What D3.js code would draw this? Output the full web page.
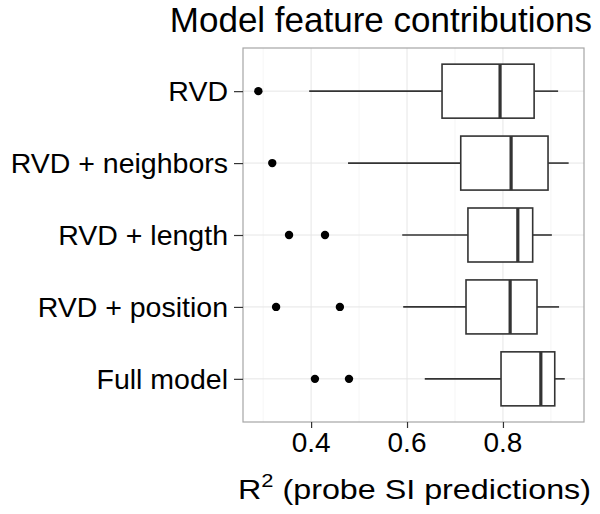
<!DOCTYPE html>
<html>
<head>
<meta charset="utf-8">
<script src="https://cdn.jsdelivr.net/npm/d3@7"></script>
<style>
  body { margin: 0; background: #fff; }
  svg { display: block; }
  text { font-family: "Liberation Sans", Arial, sans-serif; }
</style>
</head>
<body>
<svg id="chart"></svg>
<script>
// model variants, top to bottom
const models = ["RVD", "RVD + neighbors", "RVD + length", "RVD + position", "Full model"];
// boxplot stats: [whisker low, q1, median, q3, whisker high]
const boxStats = [
  [0.396, 0.673, 0.794, 0.865, 0.915],
  [0.477, 0.712, 0.817, 0.894, 0.937],
  [0.590, 0.727, 0.831, 0.862, 0.902],
  [0.592, 0.723, 0.815, 0.871, 0.917],
  [0.637, 0.796, 0.879, 0.908, 0.929]
];
const outliers = [
  [0.290],
  [0.319],
  [0.354, 0.429],
  [0.327, 0.460],
  [0.408, 0.479]
];
const xTicks = [0.4, 0.6, 0.8];
const xMinor = [0.3, 0.5, 0.7, 0.9];

const width = 600;
const height = 514;
const margin = { top: 48, right: 16, bottom: 92, left: 243 };
const innerWidth = width - margin.left - margin.right;
const innerHeight = height - margin.top - margin.bottom;

const svg = d3.select("#chart").attr("width", width).attr("height", height);

const xScale = d3.scaleLinear().domain([0.258, 0.969]).range([0, innerWidth]);
const yScale = d3.scalePoint().domain(models).range([0, innerHeight]).padding(0.6);
const boxH = 54;

const g = svg.append("g").attr("transform", `translate(${margin.left},${margin.top})`);

// grid
g.selectAll(".minor")
  .data(xMinor)
  .enter()
  .append("line")
  .attr("x1", (d) => xScale(d))
  .attr("x2", (d) => xScale(d))
  .attr("y1", 0)
  .attr("y2", innerHeight)
  .attr("stroke", "#f2f2f2")
  .attr("stroke-width", 0.8);

g.selectAll(".major")
  .data(xTicks)
  .enter()
  .append("line")
  .attr("x1", (d) => xScale(d))
  .attr("x2", (d) => xScale(d))
  .attr("y1", 0)
  .attr("y2", innerHeight)
  .attr("stroke", "#e6e6e6")
  .attr("stroke-width", 1);

g.selectAll(".hgrid")
  .data(models)
  .enter()
  .append("line")
  .attr("x1", 0)
  .attr("x2", innerWidth)
  .attr("y1", (d) => yScale(d))
  .attr("y2", (d) => yScale(d))
  .attr("stroke", "#e6e6e6")
  .attr("stroke-width", 1);

// boxes
const rows = g.selectAll(".row")
  .data(models.map((m, i) => ({ m, s: boxStats[i], o: outliers[i] })))
  .enter()
  .append("g")
  .attr("transform", (d) => `translate(0,${yScale(d.m)})`);

rows.append("line")
  .attr("x1", (d) => xScale(d.s[0]))
  .attr("x2", (d) => xScale(d.s[1]))
  .attr("stroke", "#333")
  .attr("stroke-width", 1.6);

rows.append("line")
  .attr("x1", (d) => xScale(d.s[3]))
  .attr("x2", (d) => xScale(d.s[4]))
  .attr("stroke", "#333")
  .attr("stroke-width", 1.6);

rows.append("rect")
  .attr("x", (d) => xScale(d.s[1]))
  .attr("width", (d) => xScale(d.s[3]) - xScale(d.s[1]))
  .attr("y", -boxH / 2)
  .attr("height", boxH)
  .attr("fill", "#fff")
  .attr("stroke", "#333")
  .attr("stroke-width", 1.6);

rows.append("line")
  .attr("x1", (d) => xScale(d.s[2]))
  .attr("x2", (d) => xScale(d.s[2]))
  .attr("y1", -boxH / 2)
  .attr("y2", boxH / 2)
  .attr("stroke", "#333")
  .attr("stroke-width", 3.2);

rows.selectAll("circle")
  .data((d) => d.o)
  .enter()
  .append("circle")
  .attr("cx", (d) => xScale(d))
  .attr("r", 4.2)
  .attr("fill", "#000");

// panel border
g.append("rect")
  .attr("width", innerWidth)
  .attr("height", innerHeight)
  .attr("fill", "none")
  .attr("stroke", "#a6a6a6")
  .attr("stroke-width", 1.2);

// axes: tick marks from d3 axes, labels placed with the same scales
const xAxisG = g.append("g")
  .attr("transform", `translate(0,${innerHeight})`)
  .call(d3.axisBottom(xScale).tickValues(xTicks).tickFormat("").tickSize(6));
xAxisG.select(".domain").remove();
xAxisG.selectAll(".tick line").attr("stroke", "#333").attr("stroke-width", 1.2);

g.selectAll(".xlab")
  .data(xTicks)
  .enter()
  .append("text")
  .attr("x", (d) => xScale(d))
  .attr("y", innerHeight + 30)
  .attr("text-anchor", "middle")
  .attr("font-size", 28)
  .attr("fill", "#000")
  .text(d3.format(".1f"));

const yAxisG = g.append("g")
  .call(d3.axisLeft(yScale).tickFormat("").tickSize(9));
yAxisG.select(".domain").remove();
yAxisG.selectAll(".tick line").attr("stroke", "#333").attr("stroke-width", 1.2);

g.selectAll(".ylab")
  .data(models)
  .enter()
  .append("text")
  .attr("x", -15)
  .attr("y", (d) => yScale(d) + 9.7)
  .attr("text-anchor", "end")
  .attr("font-size", 28.5)
  .attr("fill", "#000")
  .text((d) => d);

// title
svg.append("text")
  .attr("x", 592)
  .attr("y", 32)
  .attr("text-anchor", "end")
  .attr("font-size", 35)
  .attr("fill", "#000")
  .text("Model feature contributions");

// x axis label
const xl = svg.append("text")
  .attr("x", 238)
  .attr("y", 499)
  .attr("font-size", 28)
  .attr("textLength", 353)
  .attr("lengthAdjust", "spacingAndGlyphs")
  .attr("fill", "#000");
xl.append("tspan").text("R");
xl.append("tspan").attr("font-size", 19).attr("dy", -12).text("2");
xl.append("tspan").attr("dy", 12).text(" (probe SI predictions)");
</script>
</body>
</html>
